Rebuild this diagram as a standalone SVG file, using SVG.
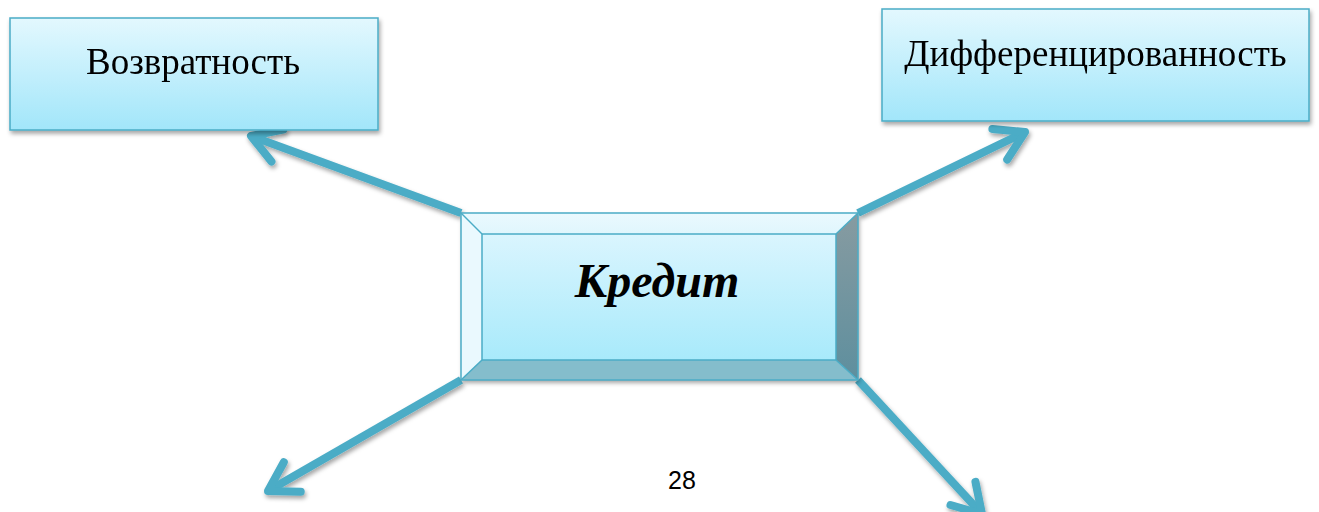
<svg xmlns="http://www.w3.org/2000/svg" width="1319" height="512" viewBox="0 0 1319 512">
<style>
.box{fill:url(#boxGrad);stroke:#4BACC6;stroke-width:1.5}
.lbl{font-family:"Liberation Serif","Times New Roman",serif;font-size:37px;fill:#000;text-anchor:middle}
.conn{fill:none;stroke:#4BACC6;stroke-width:8;marker-end:url(#ah)}
.edge{fill:none;stroke:#4BACC6;stroke-width:1.5;stroke-linejoin:round}
</style>
<defs>
<linearGradient id="boxGrad" x1="0" y1="0" x2="0" y2="1">
<stop offset="0" stop-color="#E3F8FE"/>
<stop offset="1" stop-color="#A2E6FA"/>
</linearGradient>
<linearGradient id="innerGrad" x1="0" y1="0" x2="0" y2="1">
<stop offset="0" stop-color="#DAF5FE"/>
<stop offset="1" stop-color="#A8EAFB"/>
</linearGradient>
<linearGradient id="topGrad" x1="0" y1="0" x2="0" y2="1">
<stop offset="0" stop-color="#EAF9FE"/>
<stop offset="1" stop-color="#E0F6FD"/>
</linearGradient>
<linearGradient id="rightGrad" x1="0" y1="0" x2="0" y2="1">
<stop offset="0" stop-color="#879BA1"/>
<stop offset="1" stop-color="#5E8F9E"/>
</linearGradient>
<filter id="shadow" x="-20%" y="-20%" width="140%" height="150%">
<feDropShadow dx="1.5" dy="3" stdDeviation="2" flood-color="#000" flood-opacity="0.35"/>
</filter>
<marker id="ah" markerUnits="userSpaceOnUse" viewBox="-40 -30 50 60" markerWidth="50" markerHeight="60" refX="0" refY="0" orient="auto" overflow="visible">
<path d="M-28,-17 L0,0 L-28,17" fill="none" stroke="#4BACC6" stroke-width="8" stroke-linecap="round" stroke-linejoin="round"/>
</marker>
</defs>

<g id="connectors" filter="url(#shadow)">
<line class="conn" x1="461" y1="213" x2="251" y2="136"/>
<line class="conn" x1="858" y1="213" x2="1025" y2="132"/>
<line class="conn" x1="461" y1="380" x2="268" y2="491"/>
<line class="conn" x1="858" y1="380" x2="982" y2="514"/>
</g>

<g id="node-vozvratnost" filter="url(#shadow)">
<rect class="box" x="10" y="18" width="368" height="112"/>
<text class="lbl" x="193" y="74">Возвратность</text>
</g>

<g id="node-differentsirovannost" filter="url(#shadow)">
<rect class="box" x="882" y="9" width="427" height="112"/>
<text class="lbl" x="1095.5" y="66">Дифференцированность</text>
</g>

<g id="node-kredit">
<g filter="url(#shadow)">
<rect x="461" y="213" width="397" height="167" fill="url(#boxGrad)"/>
</g>
<polygon points="461,213 858,213 836,234 482,234" fill="url(#topGrad)"/>
<polygon points="461,213 482,234 482,360 461,380" fill="#EAF9FE"/>
<polygon points="858,213 858,380 836,360 836,234" fill="url(#rightGrad)"/>
<polygon points="461,380 482,360 836,360 858,380" fill="#84BDCC"/>
<rect x="482" y="234" width="354" height="126" fill="url(#innerGrad)"/>
<rect class="edge" x="461" y="213" width="397" height="167"/>
<rect class="edge" x="482" y="234" width="354" height="126"/>
<line class="edge" x1="461" y1="213" x2="482" y2="234"/>
<line class="edge" x1="858" y1="213" x2="836" y2="234"/>
<line class="edge" x1="461" y1="380" x2="482" y2="360"/>
<line class="edge" x1="858" y1="380" x2="836" y2="360"/>
<text x="657" y="297" font-family="Liberation Serif, 'Times New Roman', serif" font-size="48" font-weight="bold" font-style="italic" text-anchor="middle" fill="#000">Кредит</text>
</g>

<text x="682" y="489" font-family="'Liberation Sans', Arial, sans-serif" font-size="25" text-anchor="middle" fill="#000">28</text>
</svg>
